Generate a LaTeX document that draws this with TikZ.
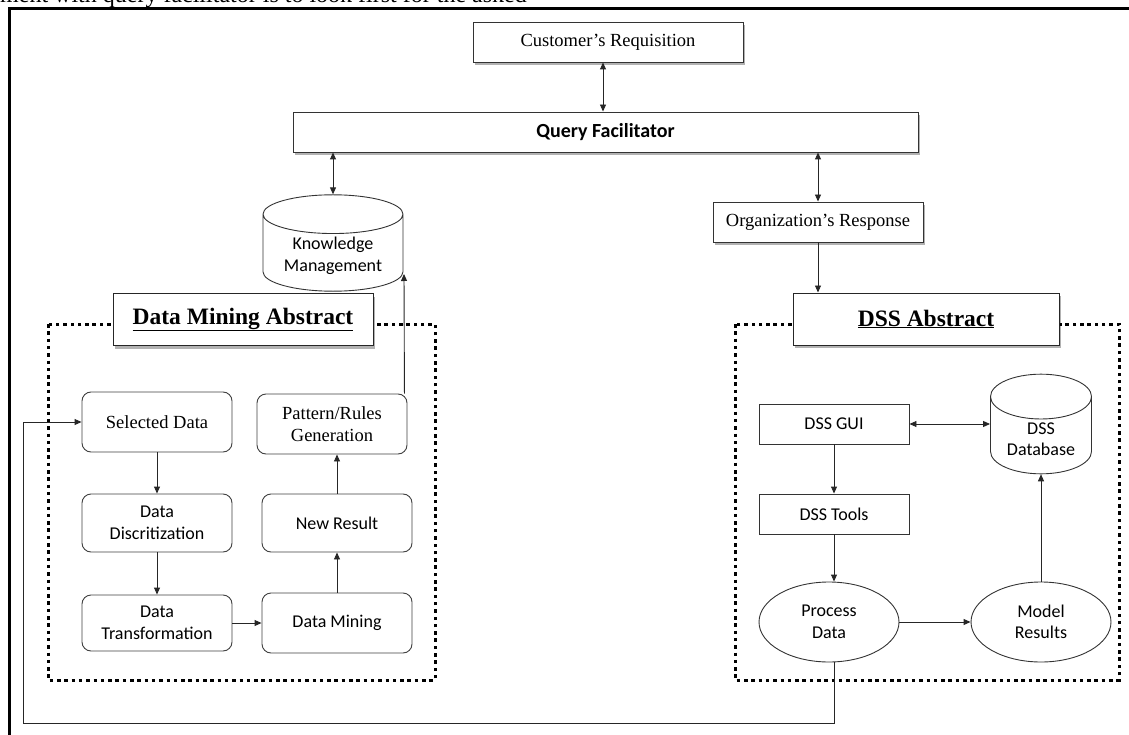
\documentclass[tikz,border=0pt]{standalone}
\usepackage{fontspec}
\setmainfont{Liberation Serif}
\newfontfamily\calibri{Carlito}
\usetikzlibrary{shapes.geometric, arrows.meta, shadows}

\tikzset{
  plainbox/.style={draw=black!80, line width=0.9pt, fill=white, minimum height=40pt, font=\fontsize{18.5}{22}\selectfont},
  roundbox/.style={draw=black!75, line width=0.9pt, rounded corners=9pt, fill=white, minimum width=150pt, align=center},
  sansbox/.style={roundbox, font=\calibri\fontsize{18}{21.5}\selectfont},
  serifbox/.style={roundbox, font=\fontsize{18.5}{22}\selectfont},
  dssbox/.style={draw=black!80, line width=0.9pt, minimum width=150pt, minimum height=40pt, font=\calibri\fontsize{18}{21.5}\selectfont},
  store/.style={cylinder, shape border rotate=90, anchor=shape center, draw=black!80, line width=0.9pt, align=center, font=\calibri\fontsize{18}{21.5}\selectfont},
  blob/.style={ellipse, draw=black!80, line width=0.9pt, minimum width=140pt, minimum height=80pt, align=center, inner sep=0pt, font=\calibri\fontsize{18}{21.5}\selectfont},
  abstractbox/.style={draw=black!85, line width=1pt, fill=white, minimum height=52pt, font=\bfseries\fontsize{23.5}{28}\selectfont},
  dotframe/.style={line width=3pt, dash pattern=on 3.5pt off 3.8pt},
  shade/.style={drop shadow={shadow xshift=1.5pt, shadow yshift=-3pt, fill=black, opacity=0.3}},
  link/.style={->, line width=0.9pt, draw=black!85},
}

\begin{document}
\begin{tikzpicture}[x=1pt, y=-1pt, >={Triangle[length=7pt,width=6pt]}]
  \useasboundingbox (0,0) rectangle (1129,735);
  % page frame and the cut line of text above it
  \node[anchor=base west, inner sep=0pt, font=\fontsize{24}{28}\selectfont] (cut) at (0,3) {ment with query facilitator is to look first for the asked};
  \draw[line width=2.5pt] (9.5,740) -- (9.5,8.5) -- (1135,8.5);

  % top part
  \node[plainbox, minimum width=270pt, shade] (cust) at (608,42) {Customer's Requisition};
  \node[plainbox, minimum width=625pt, shade, font=\calibri\bfseries\fontsize{20}{24}\selectfont] (query) at (605.5,132) {Query Facilitator};
  \node[plainbox, minimum width=210pt, shade] (org) at (818,222) {Organization's Response};
  \node[store, minimum width=140pt, minimum height=62pt, aspect=0.37] (know) at (333,243) {Knowledge\\Management};

  % the two dotted frames
  \draw[dotframe] (48,324) rectangle (435,680);
  \draw[dotframe] (735,324) rectangle (1119,680);
  \node[abstractbox, minimum width=260pt, shade] (dmabs) at (243,319.5) {\underline{Data Mining Abstract}};
  \node[abstractbox, minimum width=266pt, shade] (dssabs) at (926,319) {\underline{DSS Abstract}};

  % data mining steps
  \node[serifbox, minimum height=60pt] (sel) at (157,422) {Selected Data};
  \node[sansbox, minimum height=58pt] (disc) at (157,523) {Data\\Discritization};
  \node[sansbox, minimum height=56pt] (trans) at (157,623) {Data\\Transformation};
  \node[serifbox, minimum height=60pt] (patt) at (332,424) {Pattern/Rules\\Generation};
  \node[sansbox, minimum height=58pt] (newres) at (337,523) {New Result};
  \node[sansbox, minimum height=60pt] (dmin) at (337,623) {Data Mining};

  % DSS parts
  \node[dssbox] (gui) at (834,424) {DSS GUI};
  \node[dssbox] (tools) at (834,514) {DSS Tools};
  \node[store, minimum width=101pt, minimum height=98pt, aspect=0.6] (db) at (1041,424) {DSS\\Database};
  \node[blob] (proc) at (829,622) {Process\\Data};
  \node[blob] (model) at (1041,622) {Model\\Results};

  % connectors
  \draw[link, <->] ([xshift=-5pt]cust.south) -- ([xshift=-5pt]query.north -| cust.south);
  \draw[link, <->] (query.south -| know.north) -- (know.north);
  \draw[link, <->] (query.south -| org.north) -- (org.north);
  \draw[link] (org.south) -- (org.south |- dssabs.north);
  \coordinate (knowin) at (404,274);
  \draw[link] ([xshift=-3pt]patt.north east) -- (knowin);
  \draw[link] (sel) -- (disc);
  \draw[link] (disc) -- (trans);
  \draw[link] (trans) -- (dmin);
  \draw[link] (dmin) -- (newres);
  \draw[link] (newres.north) -- (newres.north |- patt.south);
  \draw[link, <->] (gui.east) -- (gui.east -| db.west);
  \draw[link] (gui) -- (tools);
  \draw[link] (tools.south) -- (tools.south |- proc.north);
  \draw[link] (proc) -- (model);
  \draw[link] (model) -- (db);
  \coordinate (loop) at (23,723);
  \draw[link] ([xshift=5pt]proc.south) |- (loop) |- (sel.west);
\end{tikzpicture}
\end{document}
